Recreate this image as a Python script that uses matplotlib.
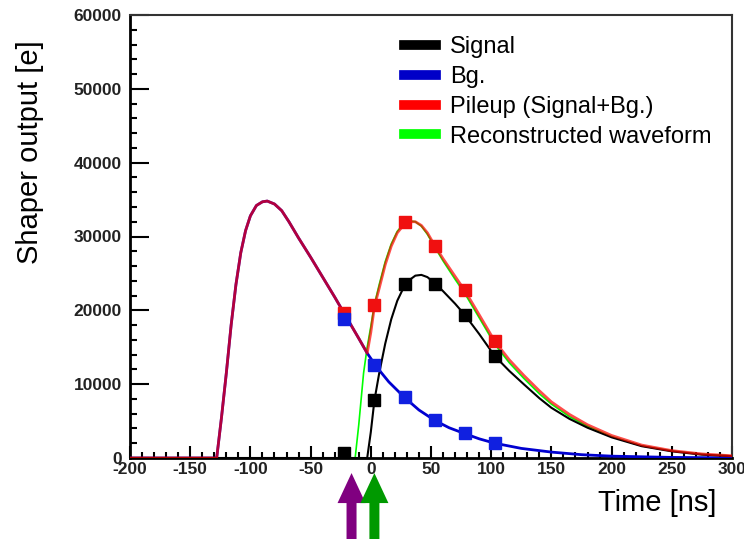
import matplotlib.pyplot as plt
from matplotlib.lines import Line2D
from matplotlib.ticker import MultipleLocator

plt.rcParams['font.family'] = ['Liberation Sans', 'DejaVu Sans']
plt.rcParams['axes.unicode_minus'] = False

# curves (time in ns, shaper output in e)
bg_t = [-200, -128, -124, -120, -116, -112, -108, -104, -100, -95, -90, -86, -80, -74, -68,
        -60, -50, -40, -30, -20, -10, -3, 5, 15, 28, 40, 53, 65, 78, 90, 103, 125, 150,
        175, 200, 250, 300]
bg_v = [0, 0, 5500, 11500, 18000, 23500, 27800, 30800, 32800, 34200, 34700, 34800, 34400,
        33500, 32000, 29800, 27200, 24500, 21800, 19000, 16200, 14200, 12300, 10300, 8200,
        6500, 5100, 4100, 3300, 2600, 2000, 1300, 800, 450, 250, 80, 20]

sig_t = [-200, -3, 0, 3, 7, 12, 17, 22, 27, 32, 37, 42, 47, 53, 60, 70, 78, 90, 103, 115,
         127, 140, 150, 165, 180, 200, 225, 250, 275, 300]
sig_v = [0, 0, 3500, 7800, 11500, 15500, 18800, 21300, 23000, 24100, 24700, 24800, 24500,
         23700, 22600, 20900, 19400, 16800, 13800, 11800, 10000, 8100, 6800, 5300, 4100,
         2800, 1600, 900, 450, 250]

pile_t = [-200, -128, -124, -120, -116, -112, -108, -104, -100, -95, -90, -86, -80, -74, -68,
          -60, -50, -40, -30, -20, -10, -3, 0, 3, 7, 12, 17, 22, 27, 32, 37, 42, 47, 53, 60,
          70, 78, 90, 103, 115, 127, 140, 150, 165, 180, 200, 225, 250, 275, 300]
pile_v = [0, 0, 5500, 11500, 18000, 23500, 27800, 30800, 32800, 34200, 34700, 34800, 34400,
          33500, 32000, 29800, 27200, 24500, 21800, 19000, 16200, 14200, 17000, 20500, 23000,
          26200, 28700, 30500, 31500, 32000, 32000, 31500, 30500, 28800, 27000, 24600, 22700,
          19400, 15800, 13300, 11200, 9100, 7600, 5900, 4500, 3050, 1750, 1000, 550, 300]

reco_t = [-200, -13, -10, -6, -3, 0, 3, 7, 12, 17, 22, 27, 32, 37, 42, 47, 53, 60, 70, 78,
          90, 103, 115, 127, 140, 150, 165, 180, 200, 225, 250, 275, 300]
reco_v = [0, 0, 4500, 11500, 15000, 17800, 20800, 23500, 26600, 29000, 30700, 31700, 32100,
          32000, 31400, 30300, 28600, 26700, 24200, 22300, 19000, 15400, 12900, 10800, 8700,
          7300, 5600, 4300, 2900, 1650, 950, 500, 280]

# sampled points
samp_t = [-22, 3, 28, 53, 78, 103]
samp_sig = [700, 7800, 23600, 23600, 19400, 13800]
samp_bg = [18800, 12600, 8200, 5100, 3400, 2000]
samp_pile = [19700, 20700, 32000, 28700, 22700, 15800]

arrow_t = [-16, 3]
arrow_col = ['#800080', '#009900']

fig = plt.figure(figsize=(7.44, 5.39), dpi=100)
ax = fig.add_axes([130/744, 81/539, 602/744, 443/539])

ax.plot(reco_t, reco_v, color='#00ff00', lw=1.2, zorder=2)
ax.plot(bg_t, bg_v, color='#0000d0', lw=2.0, zorder=3)
ax.plot(sig_t, sig_v, color='black', lw=1.5, zorder=3)
ax.plot(pile_t, pile_v, color='red', lw=2.0, alpha=0.7, zorder=4)

ax.plot(samp_t, samp_pile, 's', color='#f01010', ms=8.5, zorder=5)
ax.plot(samp_t, samp_sig, 's', color='black', ms=8.5, zorder=6)
ax.plot(samp_t, samp_bg, 's', color='#1020e0', ms=8.5, zorder=7)

ax.set_xlim(-200, 300)
ax.set_ylim(0, 60000)
ax.xaxis.set_major_locator(MultipleLocator(50))
ax.xaxis.set_minor_locator(MultipleLocator(10))
ax.yaxis.set_major_locator(MultipleLocator(10000))
ax.yaxis.set_minor_locator(MultipleLocator(2000))
ax.tick_params(axis='x', which='major', direction='in', length=9, width=1.5, pad=3)
ax.tick_params(axis='x', which='minor', direction='in', length=4.5, width=1.5)
ax.tick_params(axis='y', which='major', direction='in', length=14, width=1.5, pad=6)
ax.tick_params(axis='y', which='minor', direction='in', length=5, width=1.5)
for lab in ax.get_xticklabels() + ax.get_yticklabels():
    lab.set_fontweight('bold')
    lab.set_fontsize(12.5)
    lab.set_color('#222222')
for s in ['left', 'bottom']:
    ax.spines[s].set_linewidth(2)
for s in ['top', 'right']:
    ax.spines[s].set_linewidth(1.5)
    ax.spines[s].set_color('#333333')

handles = [Line2D([], [], color=c, lw=7) for c in ['black', '#0000c8', '#ff0000', '#00ff00']]
labels = ['Signal', 'Bg.', 'Pileup (Signal+Bg.)', 'Reconstructed waveform']
ax.legend(handles, labels, loc='upper left', bbox_to_anchor=(0.455, 0.952), frameon=False,
          fontsize=17, handlelength=1.35, handletextpad=0.6, labelspacing=0.33,
          borderpad=0, borderaxespad=0)

fig.text(30/744, 1 - 152/539, 'Shaper output [e]', rotation=90, fontsize=21,
         ha='center', va='center')
fig.text(717/744, 1 - 503/539, 'Time [ns]', fontsize=21, ha='right', va='center')

for t, c in zip(arrow_t, arrow_col):
    ax.annotate('', xy=(t, -0.034), xytext=(t, -0.19),
                xycoords=('data', 'axes fraction'), textcoords=('data', 'axes fraction'),
                arrowprops=dict(arrowstyle='simple,head_width=1.4,head_length=1.5,tail_width=0.5',
                                mutation_scale=14.4, color=c, lw=0, shrinkA=0, shrinkB=0),
                annotation_clip=False)

fig.savefig('out.png', dpi=100)
